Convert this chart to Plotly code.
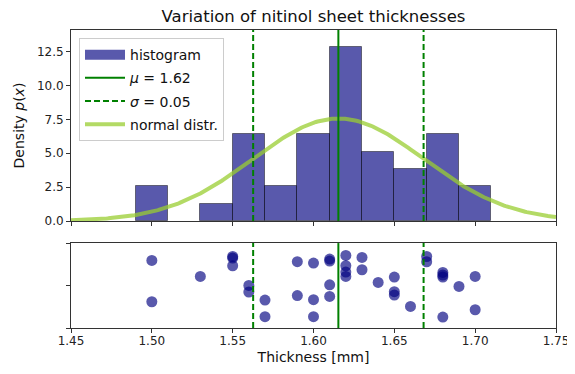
import numpy as np
import plotly.graph_objects as go

# ---- data ----
thickness = [1.50, 1.50, 1.53, 1.55, 1.55, 1.55, 1.56, 1.56, 1.57, 1.57,
             1.59, 1.59, 1.60, 1.60, 1.60, 1.61, 1.61, 1.61, 1.61,
             1.62, 1.62, 1.62, 1.62, 1.63, 1.63, 1.64, 1.65, 1.65, 1.65,
             1.66, 1.67, 1.67, 1.68, 1.68, 1.68, 1.68, 1.69, 1.70, 1.70]
jitter = [0.795, 0.309, 0.607, 0.842, 0.824, 0.733, 0.501, 0.424, 0.329, 0.133,
          0.781, 0.382, 0.765, 0.333, 0.133, 0.812, 0.788, 0.509, 0.372,
          0.854, 0.733, 0.659, 0.607, 0.831, 0.686, 0.537, 0.600, 0.427, 0.388,
          0.254, 0.842, 0.780, 0.654, 0.624, 0.600, 0.129, 0.489, 0.607, 0.215]
bin_edges = np.arange(1.49, 1.72, 0.02)
x_ticks = [1.45, 1.50, 1.55, 1.60, 1.65, 1.70, 1.75]
y_ticks = [0.0, 2.5, 5.0, 7.5, 10.0, 12.5]

x = np.array(thickness)
mu = x.mean()
sigma = x.std()
dens, edges = np.histogram(x, bins=bin_edges, density=True)
centers = 0.5 * (edges[:-1] + edges[1:])
widths = np.diff(edges)
dens_plot = [d if d > 0 else None for d in dens]

xs = np.linspace(1.45, 1.75, 300)
pdf = np.exp(-0.5 * ((xs - mu) / sigma) ** 2) / (sigma * np.sqrt(2 * np.pi))

NAVY = "rgba(0,0,128,0.65)"
GREEN = "#008000"
FONT = "DejaVu Sans"

fig = go.Figure()
fig.add_trace(go.Bar(x=centers, y=dens_plot, width=widths, name="histogram", showlegend=False,
                     marker=dict(color=NAVY, line=dict(color="rgba(0,0,0,0.45)", width=1)),
                     xaxis="x", yaxis="y"))
# legend entries (wide patch for the histogram, lines for mean / sigma)
fig.add_trace(go.Scatter(x=[None], y=[None], mode="lines", name="histogram", legendgroup="a",
                         line=dict(color=NAVY, width=12), xaxis="x", yaxis="y"))
fig.add_trace(go.Scatter(x=[None], y=[None], mode="lines", name=f"<i>μ</i> = {mu:.2f}",
                         legendgroup="b",
                         line=dict(color=GREEN, width=2), xaxis="x", yaxis="y"))
fig.add_trace(go.Scatter(x=[None], y=[None], mode="lines", name=f"<i>σ</i> = {sigma:.2f}",
                         legendgroup="c",
                         line=dict(color=GREEN, width=2, dash="6px,3px"), xaxis="x", yaxis="y"))
fig.add_trace(go.Scatter(x=xs, y=pdf, mode="lines", name="normal distr.", legendgroup="d",
                         line=dict(color="rgba(154,205,50,0.75)", width=4),
                         xaxis="x", yaxis="y"))
fig.add_trace(go.Scatter(x=x, y=jitter, mode="markers", showlegend=False,
                         marker=dict(color=NAVY, size=11, line=dict(width=0)),
                         xaxis="x2", yaxis="y2"))

shapes = []
for yr in ("y domain", "y2 domain"):
    shapes.append(dict(type="line", xref="x", yref=yr, x0=mu, x1=mu, y0=0, y1=1,
                       line=dict(color=GREEN, width=2), layer="above"))
    for s in (mu - sigma, mu + sigma):
        shapes.append(dict(type="line", xref="x", yref=yr, x0=s, x1=s, y0=0, y1=1,
                           line=dict(color=GREEN, width=2, dash="6px,3px"), layer="above"))

axis_common = dict(showline=True, linecolor="#333", linewidth=1, mirror=True,
                   ticks="outside", ticklen=4, tickcolor="#333", showgrid=False,
                   zeroline=False, automargin=False,
                   tickfont=dict(family=FONT, size=12, color="#222"))

# The page body has an 8px margin, so the figure is 16px smaller than the window.
fig.update_layout(
    width=559, height=358,
    margin=dict(l=63, r=11, t=22, b=38, autoexpand=False),
    paper_bgcolor="white", plot_bgcolor="white",
    font=dict(family=FONT, color="#111"),
    title=dict(text="Variation of nitinol sheet thicknesses", xref="paper", x=0.5,
               xanchor="center", y=0.977, yanchor="middle",
               font=dict(family=FONT, size=16.5, color="#111")),
    bargap=0,
    showlegend=True,
    legend=dict(x=0.0165, y=0.973, xanchor="left", yanchor="top",
                bgcolor="rgba(255,255,255,0.85)", bordercolor="#ccc", borderwidth=1,
                font=dict(family=FONT, size=14, color="#111"), traceorder="grouped",
                tracegroupgap=2, itemwidth=40),
    xaxis=dict(domain=[0, 1], range=[1.45, 1.75], anchor="y", tickvals=x_ticks,
               showticklabels=False, **axis_common),
    yaxis=dict(domain=[0.359, 1], range=[0, 14.1], anchor="x", tickvals=y_ticks,
               tickformat=".1f",
               title=dict(text="Density <i>p</i>(<i>x</i>)", font=dict(family=FONT, size=14),
                          standoff=8),
               **axis_common),
    xaxis2=dict(domain=[0, 1], range=[1.45, 1.75], anchor="y2", matches="x",
                tickvals=x_ticks, tickformat=".2f", ticklabelstandoff=-2,
                ticklabeloverflow="allow",
                title=dict(text="Thickness [mm]", font=dict(family=FONT, size=14), standoff=4),
                **axis_common),
    yaxis2=dict(domain=[0, 0.285], range=[0, 1], anchor="x2", tickvals=[0, 0.5, 1],
                showticklabels=False, **axis_common),
    shapes=shapes,
)

fig.write_html("out.html")
